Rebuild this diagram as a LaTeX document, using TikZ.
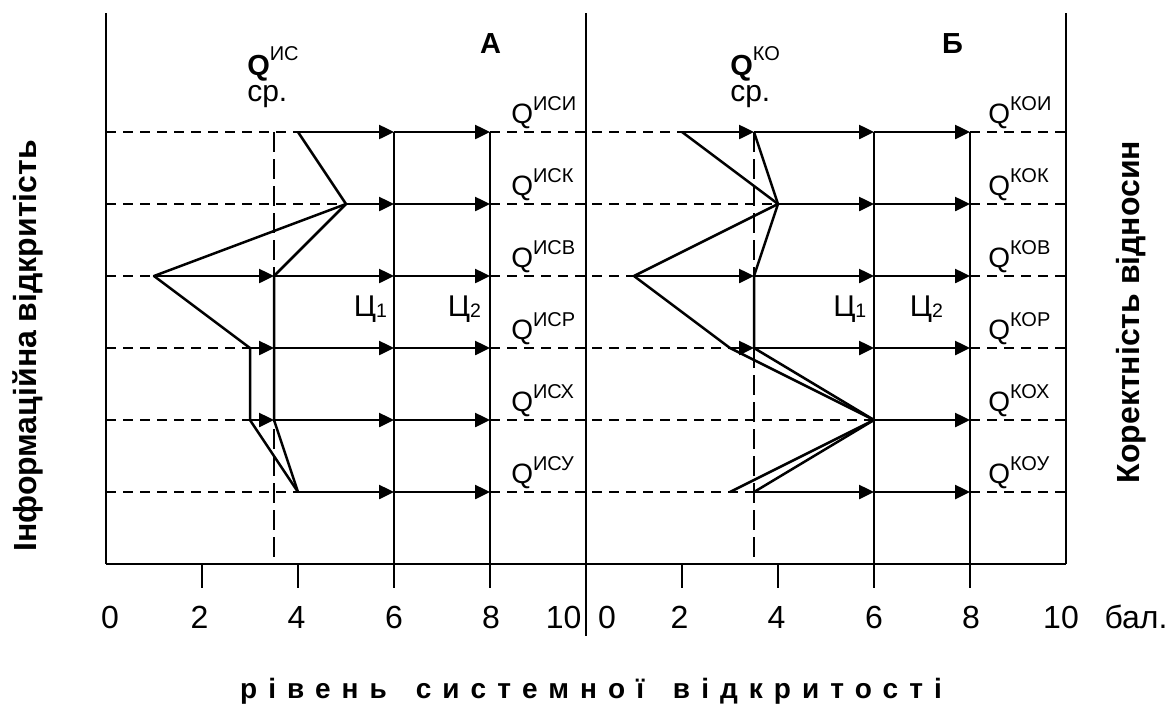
\documentclass[tikz,border=0pt]{standalone}
\usepackage{fontspec}
\setmainfont{Liberation Sans}
\newfontfamily\spacedfont[LetterSpace=39.5]{Liberation Sans}
\usetikzlibrary{arrows.meta}
\begin{document}
\begin{tikzpicture}[x=1pt,y=-1pt, line width=2.5pt,
  dsh/.style={dash pattern=on 10pt off 7pt},
  vdsh/.style={dash pattern=on 20pt off 7pt},
  arr/.style={-{Triangle[length=15pt,width=14pt]}},
  ser/.style={line join=round},
  lbl/.style={inner sep=0pt, anchor=base west},
  num/.style={inner sep=0pt, anchor=base, font=\fontsize{32}{32}\selectfont},
  rowq/.style={lbl, font=\fontsize{28}{28}\selectfont},
  cc/.style={lbl, font=\fontsize{30}{30}\selectfont},
  ylab/.style={rotate=90, inner sep=0pt, anchor=base, font=\fontsize{32}{32}\selectfont\bfseries}
]
\useasboundingbox (0,0) rectangle (1170,705);
% grid coordinates
\foreach \k in {0,...,6}{
  \foreach \v/\n in {0/0,1/1,2/2,3/3,3.5/m,4/4,5/5,6/6,8/8,10/10}{
    \coordinate (A\n-\k) at ({106+48*\v},{132+72*\k});
    \coordinate (B\n-\k) at ({586+48*\v},{132+72*\k});
  }
}
\foreach \v/\n in {2/2,4/4,6/6,8/8}{
  \coordinate (At\n) at ({106+48*\v},588);
  \coordinate (Bt\n) at ({586+48*\v},588);
}
\coordinate (Atop) at (106,13);
\coordinate (Mtop) at (586,13);
\coordinate (Mbot) at (586,636);
\coordinate (Btop) at (1066,13);

% frame and axis
\draw (Atop) -- (A0-6);
\draw (Mtop) -- (Mbot);
\draw (Btop) -- (B10-6);
\draw (A0-6) -- (B10-6);
\foreach \n in {2,4}{
  \draw (A\n-6) -- (At\n);
  \draw (B\n-6) -- (Bt\n);
}
\foreach \n in {6,8}{
  \draw (A\n-0) -- (At\n);
  \draw (B\n-0) -- (Bt\n);
}
\draw[vdsh] (Am-0) -- (Am-6);
\draw[vdsh] (Bm-0) -- (Bm-6);

% dashed row parts
\draw[dsh] (A0-0) -- (A4-0);  \draw[dsh] (A8-0) -- (B2-0);  \draw[dsh] (B8-0) -- (B10-0);
\draw[dsh] (A0-1) -- (A5-1);  \draw[dsh] (A8-1) -- (B4-1);  \draw[dsh] (B8-1) -- (B10-1);
\draw[dsh] (A0-2) -- (A1-2);  \draw[dsh] (A8-2) -- (B1-2);  \draw[dsh] (B8-2) -- (B10-2);
\draw[dsh] (A0-3) -- (A3-3);  \draw[dsh] (A8-3) -- (B3-3);  \draw[dsh] (B8-3) -- (B10-3);
\draw[dsh] (A0-4) -- (A3-4);  \draw[dsh] (A8-4) -- (B6-4);  \draw[dsh] (B8-4) -- (B10-4);
\draw[dsh] (A0-5) -- (A4-5);  \draw[dsh] (A8-5) -- (Bm-5);  \draw[dsh] (B8-5) -- (B10-5);

% arrows, panel A
\draw[arr] (A4-0) -- (A6-0); \draw[arr] (A6-0) -- (A8-0);
\draw[arr] (A5-1) -- (A6-1); \draw[arr] (A6-1) -- (A8-1);
\draw[arr] (A1-2) -- (Am-2); \draw[arr] (Am-2) -- (A6-2); \draw[arr] (A6-2) -- (A8-2);
\draw[arr] (A3-3) -- (Am-3); \draw[arr] (Am-3) -- (A6-3); \draw[arr] (A6-3) -- (A8-3);
\draw[arr] (A3-4) -- (Am-4); \draw[arr] (Am-4) -- (A6-4); \draw[arr] (A6-4) -- (A8-4);
\draw[arr] (A4-5) -- (A6-5); \draw[arr] (A6-5) -- (A8-5);
% arrows, panel B
\draw[arr] (B2-0) -- (Bm-0); \draw[arr] (Bm-0) -- (B6-0); \draw[arr] (B6-0) -- (B8-0);
\draw[arr] (B4-1) -- (B6-1); \draw[arr] (B6-1) -- (B8-1);
\draw[arr] (B1-2) -- (Bm-2); \draw[arr] (Bm-2) -- (B6-2); \draw[arr] (B6-2) -- (B8-2);
\draw[arr] (B3-3) -- (Bm-3); \draw[arr] (Bm-3) -- (B6-3); \draw[arr] (B6-3) -- (B8-3);
\draw[arr] (B6-4) -- (B8-4);
\draw[arr] (Bm-5) -- (B6-5); \draw[arr] (B6-5) -- (B8-5);

% profiles
\draw[ser] (A4-0) -- (A5-1) -- (A1-2) -- (A3-3) -- (A3-4) -- (A4-5);
\draw[ser] (A5-1) -- (Am-2) -- (Am-3) -- (Am-4) -- (A4-5);
\draw[ser] (B2-0) -- (B4-1) -- (B1-2) -- (B3-3) -- (B6-4) -- (B3-5);
\draw[ser] (Bm-0) -- (B4-1) -- (Bm-2) -- (Bm-3) -- (B6-4) -- (Bm-5);

% row labels
\node[rowq] (qa0) at (510,123) {Q\raisebox{13pt}{\fontsize{20}{20}\selectfont ИСИ}};
\node[rowq] (qa1) at (510,195) {Q\raisebox{13pt}{\fontsize{20}{20}\selectfont ИСК}};
\node[rowq] (qa2) at (510,267) {Q\raisebox{13pt}{\fontsize{20}{20}\selectfont ИСВ}};
\node[rowq] (qa3) at (510,339) {Q\raisebox{13pt}{\fontsize{20}{20}\selectfont ИСР}};
\node[rowq] (qa4) at (510,411) {Q\raisebox{13pt}{\fontsize{20}{20}\selectfont ИСХ}};
\node[rowq] (qa5) at (510,483) {Q\raisebox{13pt}{\fontsize{20}{20}\selectfont ИСУ}};
\node[rowq] (qb0) at (987,123) {Q\raisebox{13pt}{\fontsize{20}{20}\selectfont КОИ}};
\node[rowq] (qb1) at (987,195) {Q\raisebox{13pt}{\fontsize{20}{20}\selectfont КОК}};
\node[rowq] (qb2) at (987,267) {Q\raisebox{13pt}{\fontsize{20}{20}\selectfont КОВ}};
\node[rowq] (qb3) at (987,339) {Q\raisebox{13pt}{\fontsize{20}{20}\selectfont КОР}};
\node[rowq] (qb4) at (987,411) {Q\raisebox{13pt}{\fontsize{20}{20}\selectfont КОХ}};
\node[rowq] (qb5) at (987,483) {Q\raisebox{13pt}{\fontsize{20}{20}\selectfont КОУ}};

% mean labels (two lines: baseline of last line is the node's base)
\node[lbl] (qA) at (246,101.5) {\vbox{\baselineskip=26.5pt\lineskiplimit=-100pt\lineskip=0pt
  \hbox{\fontsize{29}{29}\selectfont\bfseries Q\raisebox{15pt}{\fontsize{20}{20}\selectfont\mdseries ИС}}
  \hbox{\fontsize{30}{30}\selectfont ср.}}};
\node[lbl] (qB) at (729,101.5) {\vbox{\baselineskip=26.5pt\lineskiplimit=-100pt\lineskip=0pt
  \hbox{\fontsize{29}{29}\selectfont\bfseries Q\raisebox{15pt}{\fontsize{20}{20}\selectfont\mdseries КО}}
  \hbox{\fontsize{30}{30}\selectfont ср.}}};

% panel letters
\node[inner sep=0pt, anchor=base, font=\fontsize{29}{29}\selectfont\bfseries] (pA) at (490.5,53) {А};
\node[inner sep=0pt, anchor=base, font=\fontsize{29}{29}\selectfont\bfseries] (pB) at (952.5,53) {Б};

% target labels
\node[cc] (c1A) at (352.7,316) {Ц\raisebox{-1pt}{\fontsize{19.5}{19.5}\selectfont 1}};
\node[cc] (c2A) at (446.7,316) {Ц\raisebox{-1pt}{\fontsize{19.5}{19.5}\selectfont 2}};
\node[cc] (c1B) at (832,316) {Ц\raisebox{-1pt}{\fontsize{19.5}{19.5}\selectfont 1}};
\node[cc] (c2B) at (908.7,316) {Ц\raisebox{-1pt}{\fontsize{19.5}{19.5}\selectfont 2}};

% axis numbers
\node[num] (nA0) at (110,628) {0};
\node[num] (nA2) at (199.5,628) {2};
\node[num] (nA4) at (296.5,628) {4};
\node[num] (nA6) at (394,628) {6};
\node[num] (nA8) at (491,628) {8};
\node[num] (nA10) at (563.7,628) {10};
\node[num] (nB0) at (607,628) {0};
\node[num] (nB2) at (679.5,628) {2};
\node[num] (nB4) at (776.5,628) {4};
\node[num] (nB6) at (874,628) {6};
\node[num] (nB8) at (971,628) {8};
\node[num] (nB10) at (1061,628) {10};
\node[num] (unit) at (1136,628) {бал.};

% axis titles
\node[ylab] (yl) at (36,346) {Інформаційна відкритість};
\node[ylab] (yr) at (1139,312) {Коректність відносин};
\node[inner sep=0pt, anchor=base] (ttl) at (591,698) {\spacedfont\bfseries\fontsize{28}{28}\selectfont рівень\hspace{10pt} системної\hspace{10pt} відкритості};
\end{tikzpicture}
\end{document}
